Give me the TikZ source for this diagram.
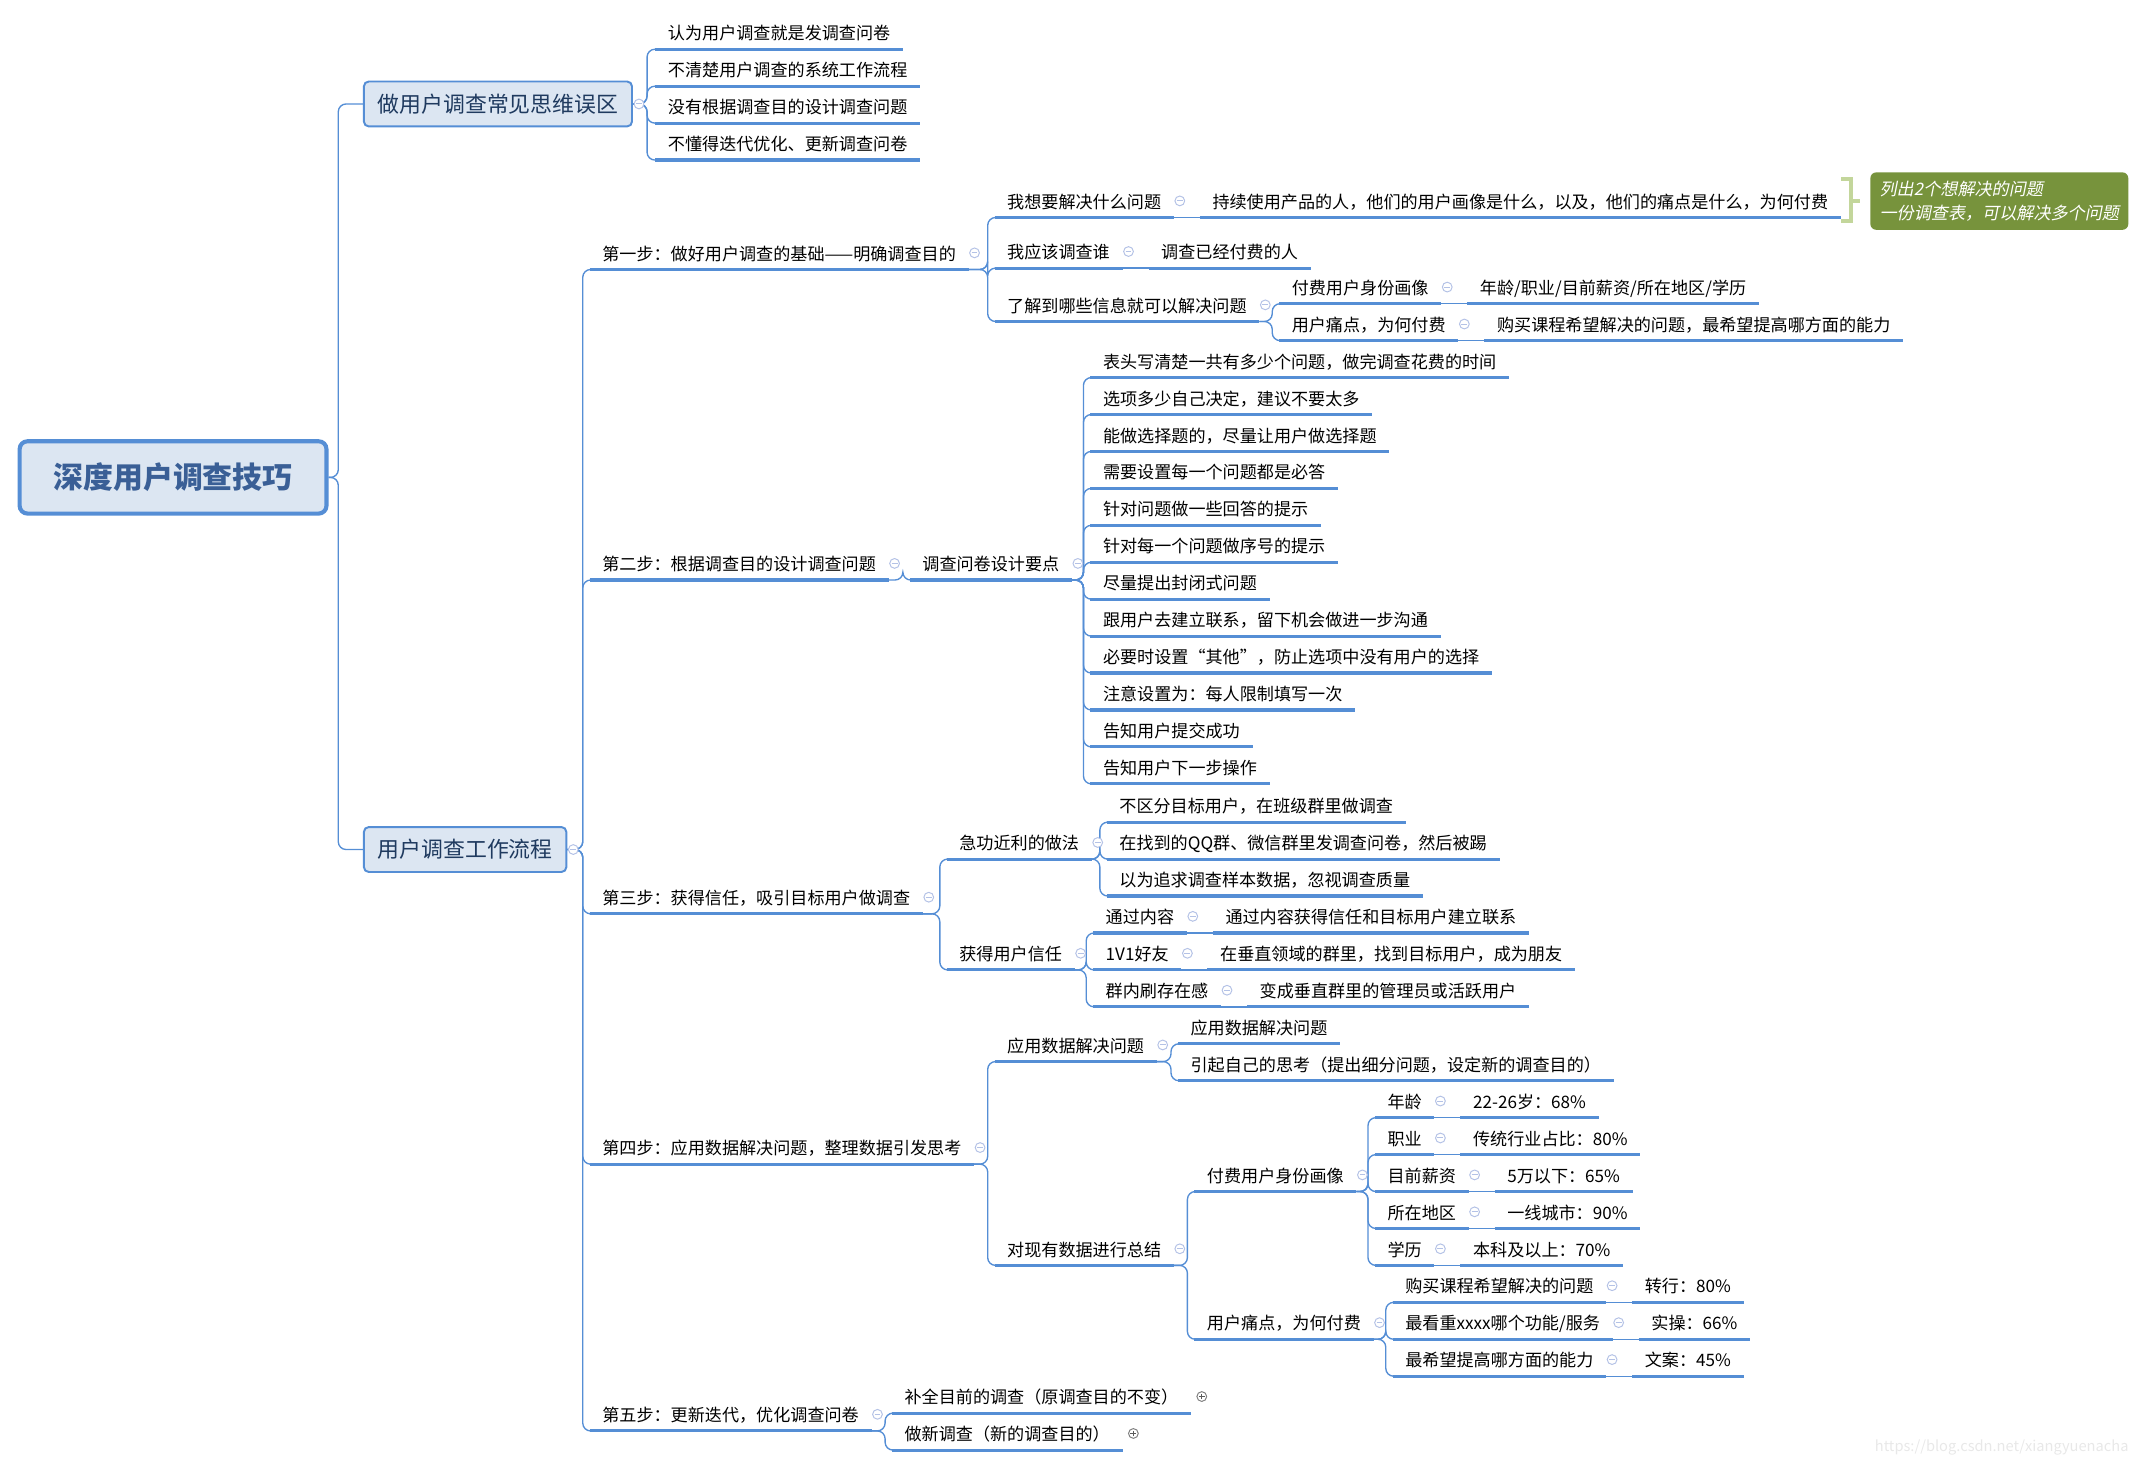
\documentclass[tikz,border=0pt]{standalone}
\usepackage{fontspec}
\setmainfont{Noto Sans CJK SC}
\newfontfamily\notafont[FakeSlant=0.2]{Noto Sans CJK SC}
\usepackage{tikz}
\usetikzlibrary{positioning}
\definecolor{lineblue}{HTML}{558ED5}
\definecolor{boxfill}{HTML}{DCE6F2}
\definecolor{roottext}{HTML}{3A5F96}
\definecolor{topictext}{HTML}{1F3A5F}
\definecolor{foldblue}{HTML}{B4C2E6}
\definecolor{notegreen}{HTML}{77933C}
\definecolor{bracegreen}{HTML}{C3D69B}

\begin{document}
\begin{tikzpicture}[x=0.7pt,y=-0.7pt,
  root/.style={draw=lineblue,line width=2.1pt,fill=boxfill,rounded corners=4pt,minimum width=157pt,minimum height=37pt,
               font=\fontsize{15.3}{18}\selectfont\bfseries,text=roottext},
  topic/.style={draw=lineblue,line width=1pt,fill=boxfill,rounded corners=2.5pt,minimum height=23pt,inner xsep=7pt,
                font=\fontsize{11.2}{13}\selectfont,text=topictext},
  item/.style={anchor=south west,inner xsep=6.3pt,inner ysep=3.8pt,text height=8.2pt,text depth=0.8pt,
               font=\fontsize{8.75}{10}\selectfont,
               append after command={\pgfextra{\let\ulnode\tikzlastnode}(\ulnode.south west) edge[uline] (\ulnode.south east)}},
  uline/.style={draw=lineblue,line width=1.6pt},
  conn/.style={draw=lineblue,line width=0.7pt,rounded corners=4pt},
  fold/.style={circle,draw=foldblue,fill=white,line width=0.5pt,inner sep=0pt,minimum size=5pt,right=0.3pt of #1,
               path picture={\draw[foldblue,line width=0.5pt] ([xshift=-1.5pt]path picture bounding box.center) -- ([xshift=1.5pt]path picture bounding box.center);}},
  unfold/.style={circle,draw=gray,fill=white,line width=0.5pt,inner sep=0pt,minimum size=5pt,right=2.8pt of #1,
                 path picture={\draw[gray!70!black,line width=0.5pt] ([xshift=-1.5pt]path picture bounding box.center) -- ([xshift=1.5pt]path picture bounding box.center)
                               ([yshift=-1.5pt]path picture bounding box.center) -- ([yshift=1.5pt]path picture bounding box.center);}},
  note/.style={fill=notegreen,rounded corners=3pt,minimum width=132pt,minimum height=29.4pt,align=left,text=white,
               font=\notafont\fontsize{8.75}{12}\selectfont},
  brace/.style={draw=bracegreen,line width=2pt}]
  \useasboundingbox (0,0) rectangle (1568,1072);

  % main topics
  \node[root] (jiqiao) at (126.5,349) {深度用户调查技巧};
  \node[topic] (wuqu) at (364,76) {做用户调查常见思维误区};
  \node[topic] (liucheng) at (340,621) {用户调查工作流程};

  % mistakes
  \node[item] (m1) at (479,36) {认为用户调查就是发调查问卷};
  \node[item] (m2) at (479,63) {不清楚用户调查的系统工作流程};
  \node[item] (m3) at (479,90) {没有根据调查目的设计调查问题};
  \node[item] (m4) at (479,117) {不懂得迭代优化、更新调查问卷};

  % step 1
  \node[item] (bu1) at (431,197) {第一步：做好用户调查的基础——明确调查目的};
  \node[item] (wenti) at (727,159) {我想要解决什么问题};
  \node[item,right=13.3pt of wenti] (wentix) {持续使用产品的人，他们的用户画像是什么，以及，他们的痛点是什么，为何付费};
  \node[item] (shei) at (727,196) {我应该调查谁};
  \node[item,right=13.3pt of shei] (sheix) {调查已经付费的人};
  \node[item] (xinxi) at (727,235) {了解到哪些信息就可以解决问题};
  \node[item] (huaxiang) at (935,222) {付费用户身份画像};
  \node[item,right=13.3pt of huaxiang] (huaxiangx) {年龄/职业/目前薪资/所在地区/学历};
  \node[item] (tongdian) at (935,249) {用户痛点，为何付费};
  \node[item,right=13.3pt of tongdian] (tongdianx) {购买课程希望解决的问题，最希望提高哪方面的能力};
  \node[note] (nota) at (1461.5,147) {列出2个想解决的问题\\一份调查表，可以解决多个问题};

  % step 2
  \node[item] (bu2) at (431,424) {第二步：根据调查目的设计调查问题};
  \node[item] (yaodian) at (665,424) {调查问卷设计要点};
  \node[item] (d1) at (797,276) {表头写清楚一共有多少个问题，做完调查花费的时间};
  \node[item] (d2) at (797,303) {选项多少自己决定，建议不要太多};
  \node[item] (d3) at (797,330) {能做选择题的，尽量让用户做选择题};
  \node[item] (d4) at (797,357) {需要设置每一个问题都是必答};
  \node[item] (d5) at (797,384) {针对问题做一些回答的提示};
  \node[item] (d6) at (797,411) {针对每一个问题做序号的提示};
  \node[item] (d7) at (797,438) {尽量提出封闭式问题};
  \node[item] (d8) at (797,465) {跟用户去建立联系，留下机会做进一步沟通};
  \node[item] (d9) at (797,492) {必要时设置“其他”，防止选项中没有用户的选择};
  \node[item] (d10) at (797,519) {注意设置为：每人限制填写一次};
  \node[item] (d11) at (797,546) {告知用户提交成功};
  \node[item] (d12) at (797,573) {告知用户下一步操作};

  % step 3
  \node[item] (bu3) at (431,668) {第三步：获得信任，吸引目标用户做调查};
  \node[item] (jigong) at (692,628) {急功近利的做法};
  \node[item] (e1) at (809,601) {不区分目标用户，在班级群里做调查};
  \node[item] (e2) at (809,628) {在找到的QQ群、微信群里发调查问卷，然后被踢};
  \node[item] (e3) at (809,655) {以为追求调查样本数据，忽视调查质量};
  \node[item] (xinren) at (692,709) {获得用户信任};
  \node[item] (neirong) at (799,682) {通过内容};
  \node[item,right=13.3pt of neirong] (neirongx) {通过内容获得信任和目标用户建立联系};
  \node[item] (haoyou) at (799,709) {1V1好友};
  \node[item,right=13.3pt of haoyou] (haoyoux) {在垂直领域的群里，找到目标用户，成为朋友};
  \node[item] (cunzai) at (799,736) {群内刷存在感};
  \node[item,right=13.3pt of cunzai] (cunzaix) {变成垂直群里的管理员或活跃用户};

  % step 4
  \node[item] (bu4) at (431,851) {第四步：应用数据解决问题，整理数据引发思考};
  \node[item] (yingyong) at (727,776) {应用数据解决问题};
  \node[item] (f1) at (861,763) {应用数据解决问题};
  \node[item] (f2) at (861,790) {引起自己的思考（提出细分问题，设定新的调查目的）};
  \node[item] (zongjie) at (727,925) {对现有数据进行总结};
  \node[item] (shenfen) at (873,871) {付费用户身份画像};
  \node[item] (nianling) at (1005,817) {年龄};
  \node[item,right=13.3pt of nianling] (nianlingx) {22-26岁：68\%};
  \node[item] (zhiye) at (1005,844) {职业};
  \node[item,right=13.3pt of zhiye] (zhiyex) {传统行业占比：80\%};
  \node[item] (xinzi) at (1005,871) {目前薪资};
  \node[item,right=13.3pt of xinzi] (xinzix) {5万以下：65\%};
  \node[item] (diqu) at (1005,898) {所在地区};
  \node[item,right=13.3pt of diqu] (diqux) {一线城市：90\%};
  \node[item] (xueli) at (1005,925) {学历};
  \node[item,right=13.3pt of xueli] (xuelix) {本科及以上：70\%};
  \node[item] (fufei) at (873,979) {用户痛点，为何付费};
  \node[item] (goumai) at (1018,952) {购买课程希望解决的问题};
  \node[item,right=13.3pt of goumai] (goumaix) {转行：80\%};
  \node[item] (kanzhong) at (1018,979) {最看重xxxx哪个功能/服务};
  \node[item,right=13.3pt of kanzhong] (kanzhongx) {实操：66\%};
  \node[item] (tigao) at (1018,1006) {最希望提高哪方面的能力};
  \node[item,right=13.3pt of tigao] (tigaox) {文案：45\%};

  % step 5
  \node[item] (bu5) at (431,1046) {第五步：更新迭代，优化调查问卷};
  \node[item] (buquan) at (652,1033) {补全目前的调查（原调查目的不变）};
  \node[item] (xindiao) at (652,1060) {做新调查（新的调查目的）};

  \node[anchor=east,text=gray!18,font=\fontsize{7.5}{9}\selectfont] (marca) at (1561,1058) {https://blog.csdn.net/xiangyuenacha};

  % connectors
  \foreach \c in {wuqu,liucheng}
    \draw[conn] (jiqiao.east) -| ([xshift=-12.6pt]\c.west) -- (\c.west);
  \foreach \c in {m1,m2,m3,m4}
    \draw[conn] (wuqu.east) -| ([xshift=-4.2pt]\c.south west) -- (\c.south west);
  \foreach \c in {bu1,bu2,bu3,bu4,bu5}
    \draw[conn] (liucheng.east) -| ([xshift=-3.5pt]\c.south west) -- (\c.south west);
  \foreach \p/\c in {bu1/wenti,bu1/shei,bu1/xinxi,xinxi/huaxiang,xinxi/tongdian,
                     bu2/yaodian,yaodian/d1,yaodian/d2,yaodian/d3,yaodian/d4,yaodian/d5,yaodian/d6,
                     yaodian/d7,yaodian/d8,yaodian/d9,yaodian/d10,yaodian/d11,yaodian/d12,
                     bu3/jigong,bu3/xinren,jigong/e1,jigong/e2,jigong/e3,xinren/neirong,xinren/haoyou,xinren/cunzai,
                     bu4/yingyong,bu4/zongjie,yingyong/f1,yingyong/f2,zongjie/shenfen,zongjie/fufei,
                     shenfen/nianling,shenfen/zhiye,shenfen/xinzi,shenfen/diqu,shenfen/xueli,
                     fufei/goumai,fufei/kanzhong,fufei/tigao,bu5/buquan,bu5/xindiao}
    \draw[conn] (\p.south east) -| ([xshift=-3.5pt]\c.south west) -- (\c.south west);
  \foreach \p in {wenti,shei,huaxiang,tongdian,neirong,haoyou,cunzai,nianling,zhiye,xinzi,diqu,xueli,goumai,kanzhong,tigao}
    \draw[conn] (\p.south east) -- (\p x.south west);

  % bracket to note
  \draw[brace] ([xshift=-14.7pt,yshift=-3.5pt]nota.north west) -- ([xshift=-9.8pt,yshift=-3.5pt]nota.north west)
               -- ([xshift=-9.8pt,yshift=4.9pt]nota.south west) -- ([xshift=-14.7pt,yshift=4.9pt]nota.south west);
  \draw[brace] ([xshift=-9.8pt]nota.west) -- ([xshift=-4.9pt]nota.west);

  % fold marks
  \foreach \p in {wuqu,liucheng,bu1,bu2,bu3,bu4,bu5,yaodian,wenti,shei,xinxi,huaxiang,tongdian,jigong,xinren,
                  neirong,haoyou,cunzai,yingyong,zongjie,shenfen,fufei,nianling,zhiye,xinzi,diqu,xueli,goumai,kanzhong,tigao}
    \node[fold=\p] (f\p) {};
  \node[unfold=buquan] (fbuquan) {};
  \node[unfold=xindiao] (fxindiao) {};
\end{tikzpicture}
\end{document}
